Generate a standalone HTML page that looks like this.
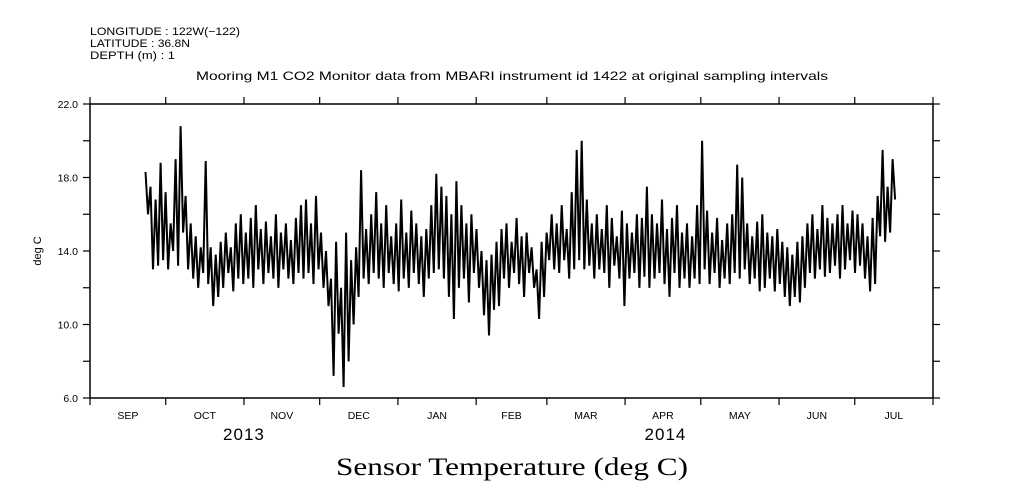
<!DOCTYPE html>
<html><head><meta charset="utf-8"><style>
body{margin:0;background:#fff;}
svg{display:block;font-family:"Liberation Sans",sans-serif;}
</style></head><body>
<svg id="chart" width="1009" height="504" viewBox="0 0 1009 504" xmlns="http://www.w3.org/2000/svg">
<rect width="1009" height="504" fill="#fff"/>
<g font-size="11" fill="#000">
<text x="90" y="35" textLength="150" lengthAdjust="spacingAndGlyphs">LONGITUDE : 122W(−122)</text>
<text x="90" y="47" textLength="100" lengthAdjust="spacingAndGlyphs">LATITUDE : 36.8N</text>
<text x="90" y="59" textLength="85" lengthAdjust="spacingAndGlyphs">DEPTH (m) : 1</text>
</g>
<text x="196" y="80" textLength="632" lengthAdjust="spacingAndGlyphs" font-size="12">Mooring M1 CO2 Monitor data from MBARI instrument id 1422 at original sampling intervals</text>
<text x="336" y="475" textLength="352" lengthAdjust="spacingAndGlyphs" font-size="25" font-family="Liberation Serif, serif">Sensor Temperature (deg C)</text>
<text transform="translate(41,251) rotate(-90)" text-anchor="middle" font-size="11">deg C</text>
<g id="axes"></g>
<g id="series"></g>
</svg>
<script>
const hiVals=[18.3,17.5,16.8,18.8,17.2,
15.5,19.0,20.8,17.0,15.5,14.8,14.2,
18.9,14.2,13.8,14.5,15.0,14.2,15.5,16.0,
15.0,15.8,16.5,15.2,15.6,14.8,16.0,15.0,15.5,14.6,15.8,16.5,
16.8,15.5,17.0,15.0,
14.0,12.5,14.5,12.0,15.0,13.5,14.2,18.4,
15.2,16.0,17.2,15.5,16.5,14.8,15.5,16.8,15.0,16.2,15.5,14.8,15.2,16.5,
18.2,17.5,17.0,16.0,17.8,16.5,15.5,16.0,15.2,
14.0,13.5,13.8,14.5,
15.2,15.5,14.5,15.8,14.8,15.0,14.2,
13.0,14.5,
15.0,16.0,15.5,16.5,15.2,17.2,
19.5,20.0,
16.8,15.5,16.0,15.2,16.5,15.8,14.8,16.2,15.5,15.0,16.0,15.8,
17.5,16.0,15.5,16.8,15.2,15.8,16.5,15.0,
15.5,14.8,16.5,20.0,
16.2,15.0,15.8,14.6,15.5,16.0,
18.7,18.0,
15.5,14.8,15.6,16.0,15.0,14.8,15.2,14.5,
14.2,13.8,14.5,14.8,
15.5,16.0,15.2,16.5,15.8,15.5,16.0,16.5,15.5,16.2,16.0,
15.5,14.8,15.8,
17.0,19.5,17.5,19.0];
const loVals=[16.0,13.0,13.2,13.5,13.0,
14.0,13.2,15.0,13.0,12.5,12.0,12.8,
12.2,11.0,11.5,12.0,12.8,11.8,12.5,12.2,
12.5,12.0,13.0,12.2,12.8,12.5,12.0,13.0,12.5,12.2,12.8,12.5,
12.8,12.2,13.0,12.0,
11.0,7.2,9.5,6.6,8.0,10.0,11.5,12.5,
12.2,12.8,12.5,12.0,12.8,12.2,11.8,12.5,12.0,12.8,12.2,11.5,12.5,12.8,
13.0,12.5,11.5,10.3,12.0,12.5,11.2,12.8,12.0,
10.5,9.4,10.8,11.0,
12.5,12.0,12.8,12.2,11.5,12.8,12.0,
10.3,11.5,
13.5,13.0,12.8,13.5,12.5,13.0,
13.5,13.0,
13.2,12.5,13.0,12.8,12.0,13.2,12.5,11.0,12.5,12.8,12.0,12.6,
12.0,12.5,12.8,12.2,11.5,12.8,12.0,12.5,
12.0,12.5,12.2,13.0,
12.2,12.8,12.0,12.5,12.2,12.8,
12.5,13.0,
12.2,12.5,11.8,12.0,12.5,11.8,12.2,11.5,
11.0,11.5,11.2,12.0,
12.8,12.5,13.0,12.6,12.8,13.2,12.5,13.0,13.5,12.8,13.2,
12.5,11.8,12.2,
14.8,14.5,15.0,16.8];
const startDay=22, endDay=318; // days since 1 Sep 2013
const monthLabels=["SEP","OCT","NOV","DEC","JAN","FEB","MAR","APR","MAY","JUN","JUL"];
const monthStarts=[0,30,61,91,122,153,181,212,242,273,303,334];
const yTickLabels=["6.0","10.0","14.0","18.0","22.0"];
const yTicks=[6,10,14,18,22];
const yMinor=[8,12,16,20];
const yearLabels=["2013","2014"];
const yearDays=[61,228];

const X0=90,X1=933,Y0=398,Y1=104,DMAX=334,VMIN=6,VMAX=22;
const xs=d=>X0+(d/DMAX)*(X1-X0);
const ys=v=>Y0-(v-VMIN)/(VMAX-VMIN)*(Y0-Y1);
const NS="http://www.w3.org/2000/svg";
function mk(tag,attrs,parent,txt){const e=document.createElementNS(NS,tag);for(const k in attrs)e.setAttribute(k,attrs[k]);if(txt!==undefined)e.textContent=txt;parent.appendChild(e);return e;}
const ax=document.getElementById('axes');
const frame=mk('rect',{x:X0,y:Y1,width:X1-X0,height:Y0-Y1,fill:'none',stroke:'#000','stroke-width':1.5},ax);


monthStarts.forEach(d=>{
  const x=xs(d);
  const t1=mk('line',{x1:x,x2:x,y1:Y0,y2:Y0+7,stroke:'#000','stroke-width':1.2},ax);
  
  
  const t2=mk('line',{x1:x,x2:x,y1:Y1,y2:Y1-7,stroke:'#000','stroke-width':1.2},ax);
  
  
});
monthLabels.forEach((m,i)=>{
  const x=xs((monthStarts[i]+monthStarts[i+1])/2);
  const t=mk('text',{x:x,y:419,'text-anchor':'middle','font-size':10.5},ax,m);
  
  
});
yearLabels.forEach((y,i)=>{
  const t=mk('text',{x:xs(yearDays[i]),y:440,'text-anchor':'middle','font-size':17,'letter-spacing':1},ax,y);
  
  
});
yTicks.forEach((v,i)=>{
  const y=ys(v);
  const l=mk('line',{x1:X0-7,x2:X0,y1:y,y2:y,stroke:'#000','stroke-width':1.2},ax);
  
  
  const r=mk('line',{x1:X1,x2:X1+7,y1:y,y2:y,stroke:'#000','stroke-width':1.2},ax);
  
  
  const t=mk('text',{x:X0-12,y:y+4,'text-anchor':'end','font-size':10.5},ax,yTickLabels[i]);
  
  
});
yMinor.forEach(v=>{
  const y=ys(v);
  const l=mk('line',{x1:X0-7,x2:X0,y1:y,y2:y,stroke:'#000','stroke-width':1.2},ax);
  
  
  const r=mk('line',{x1:X1,x2:X1+7,y1:y,y2:y,stroke:'#000','stroke-width':1.2},ax);
  
  
});
const n=hiVals.length;
const step=(endDay-startDay)/(n-1);
const pts=[];
for(let i=0;i<n;i++){
  const d=startDay+i*step;
  pts.push(xs(d).toFixed(1)+','+ys(hiVals[i]).toFixed(1));
  pts.push(xs(d+step/2).toFixed(1)+','+ys(loVals[i]).toFixed(1));
}
const line=mk('polyline',{points:pts.join(' '),fill:'none',stroke:'#000','stroke-width':2,'stroke-linejoin':'miter'},document.getElementById('series'));


</script>
</body></html>
